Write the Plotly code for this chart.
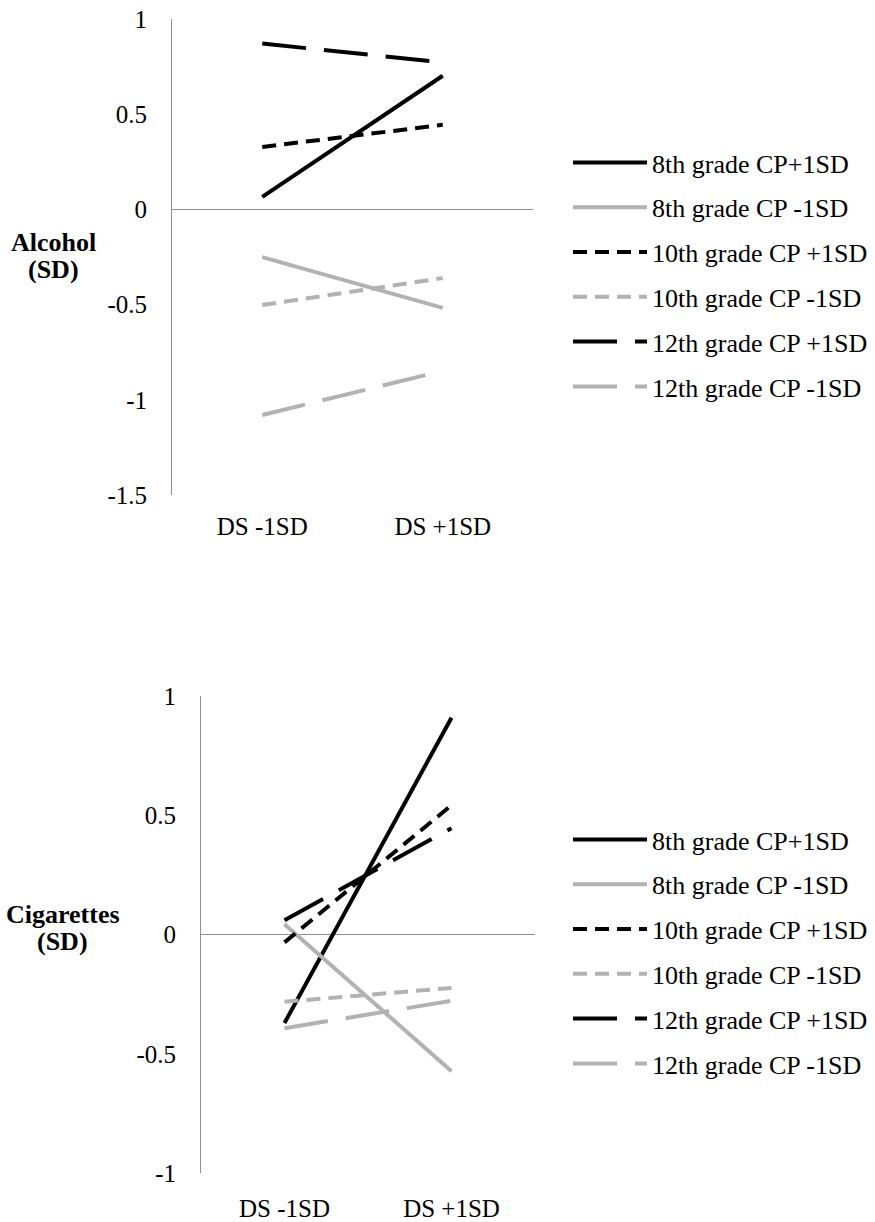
import plotly.graph_objects as go

categories = ["DS -1SD", "DS +1SD"]
series_names = ["8th grade CP+1SD", "8th grade CP -1SD", "10th grade CP +1SD",
                "10th grade CP -1SD", "12th grade CP +1SD", "12th grade CP -1SD"]

alcohol_8_hi = [0.066, 0.702]
alcohol_8_lo = [-0.251, -0.517]
alcohol_10_hi = [0.328, 0.444]
alcohol_10_lo = [-0.502, -0.361]
alcohol_12_hi = [0.871, 0.772]
alcohol_12_lo = [-1.080, -0.848]

cig_8_hi = [-0.371, 0.909]
cig_8_lo = [0.043, -0.573]
cig_10_hi = [-0.033, 0.542]
cig_10_lo = [-0.282, -0.224]
cig_12_hi = [0.060, 0.446]
cig_12_lo = [-0.393, -0.278]

alc_ticks = [1, 0.5, 0, -0.5, -1, -1.5]
alc_ticktext = ["1", "0.5", "0", "-0.5", "-1", "-1.5"]
cig_ticks = [1, 0.5, 0, -0.5, -1]
cig_ticktext = ["1", "0.5", "0", "-0.5", "-1"]

BLACK = "#000000"
GRAY = "#b2b2b2"
AXIS = "#8f8f8f"
FONT = "Liberation Serif"
W, H = 875, 1222

styles = [
    (BLACK, "solid"),
    (GRAY, "solid"),
    (BLACK, "14px,8px"),
    (GRAY, "14px,8px"),
    (BLACK, "44px,18px"),
    (GRAY, "44px,18px"),
]

alc = [alcohol_8_hi, alcohol_8_lo, alcohol_10_hi, alcohol_10_lo, alcohol_12_hi, alcohol_12_lo]
cig = [cig_8_hi, cig_8_lo, cig_10_hi, cig_10_lo, cig_12_hi, cig_12_lo]

fig = go.Figure()
for i, (name, vals) in enumerate(zip(series_names, alc)):
    c, d = styles[i]
    fig.add_trace(go.Scatter(x=categories, y=vals, mode="lines", name=name,
                             line=dict(color=c, width=4, dash=d),
                             xaxis="x", yaxis="y", legend="legend",
                             legendgroup="a%d" % i))
for i, (name, vals) in enumerate(zip(series_names, cig)):
    c, d = styles[i]
    fig.add_trace(go.Scatter(x=categories, y=vals, mode="lines", name=name,
                             line=dict(color=c, width=4, dash=d),
                             xaxis="x2", yaxis="y2", legend="legend2",
                             legendgroup="c%d" % i))

def px_x(p):
    return p / W

def px_y(p):
    return (H - p) / H

axis_common = dict(showgrid=False, zeroline=False, showline=False, ticks="",
                   tickfont=dict(family=FONT, size=25, color=BLACK),
                   type="category", range=[-0.5, 1.5], fixedrange=True,
                   automargin=False)
yaxis_common = dict(showgrid=False, showline=True, linecolor=AXIS, linewidth=1,
                    zeroline=True, zerolinecolor=AXIS, zerolinewidth=1,
                    ticks="", tickfont=dict(family=FONT, size=25, color=BLACK),
                    tickmode="array", ticklabelstandoff=19, automargin=False,
                    fixedrange=True)

legend_common = dict(bgcolor="rgba(0,0,0,0)", borderwidth=0,
                     xanchor="left", yanchor="top", itemwidth=74,
                     font=dict(family=FONT, size=26, color=BLACK),
                     tracegroupgap=8, itemclick=False, itemdoubleclick=False)

fig.update_layout(
    width=W, height=H, margin=dict(l=0, r=0, t=0, b=0, autoexpand=False),
    paper_bgcolor="white", plot_bgcolor="white",
    font=dict(family=FONT, color=BLACK),
    showlegend=True,
    xaxis=dict(axis_common, domain=[px_x(172), px_x(533)], anchor="y",
               ticklabelstandoff=14),
    yaxis=dict(yaxis_common, domain=[px_y(495), px_y(19)], anchor="x",
               range=[-1.5, 1], tickvals=alc_ticks, ticktext=alc_ticktext),
    xaxis2=dict(axis_common, domain=[px_x(201), px_x(535)], anchor="y2",
                ticklabelstandoff=18),
    yaxis2=dict(yaxis_common, domain=[px_y(1173), px_y(696)], anchor="x2",
                range=[-1, 1], tickvals=cig_ticks, ticktext=cig_ticktext),
    legend=dict(legend_common, x=px_x(568), y=px_y(139)),
    legend2=dict(legend_common, x=px_x(568), y=px_y(816)),
    annotations=[
        dict(text="<b>Alcohol</b>", x=px_x(53), y=px_y(243), xref="paper", yref="paper",
             showarrow=False, xanchor="center", yanchor="middle",
             font=dict(family=FONT, size=26, color=BLACK)),
        dict(text="<b>(SD)</b>", x=px_x(53), y=px_y(269), xref="paper", yref="paper",
             showarrow=False, xanchor="center", yanchor="middle",
             font=dict(family=FONT, size=26, color=BLACK)),
        dict(text="<b>Cigarettes</b>", x=px_x(63), y=px_y(914), xref="paper", yref="paper",
             showarrow=False, xanchor="center", yanchor="middle",
             font=dict(family=FONT, size=26, color=BLACK)),
        dict(text="<b>(SD)</b>", x=px_x(63), y=px_y(941), xref="paper", yref="paper",
             showarrow=False, xanchor="center", yanchor="middle",
             font=dict(family=FONT, size=26, color=BLACK)),
    ],
)

fig.write_html("out.html", config={"displayModeBar": False},
               post_script="document.body.style.margin='0';")
